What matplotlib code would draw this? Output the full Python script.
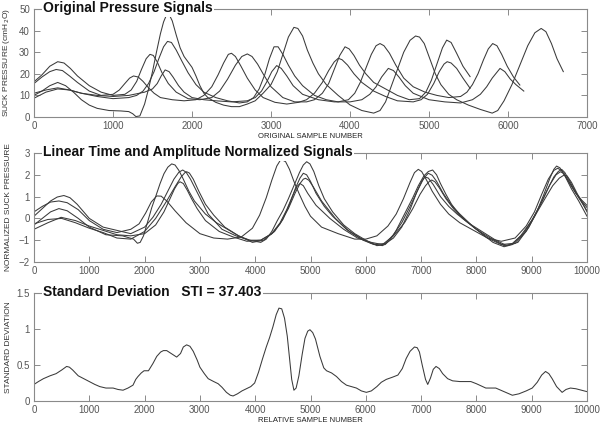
import matplotlib
matplotlib.use("Agg")
import matplotlib.pyplot as plt

plt.rcParams['font.family'] = ['Liberation Sans', 'DejaVu Sans']

# ---------------- Panel 1: original pressure signals (cmH2O) ----------------
sig_a_x = [0, 100, 200, 300, 400, 500, 600, 700, 800, 950, 1100, 1200, 1250, 1290, 1340, 1400, 1450, 1500,
           1550, 1600, 1640, 1680, 1710, 1750, 1800, 1850, 1900, 1950, 2000, 2050, 2100, 2150, 2200, 2300,
           2400, 2500, 2600, 2700, 2800, 2900, 3000, 3080, 3150, 3220, 3290, 3340, 3400, 3460, 3530, 3600,
           3700, 3850, 4000, 4150, 4300, 4380, 4450, 4520, 4600, 4680, 4760, 4830, 4880, 4940, 5000, 5080,
           5150, 5250, 5350, 5500, 5650, 5800, 5870, 5950, 6050, 6150, 6250, 6340, 6420, 6480, 6550, 6620,
           6700]
sig_a_y = [10, 12, 14.5, 16, 14.5, 11.5, 8, 5.5, 4, 3, 2.8, 2.5, 1.5, 0.2, 0.5, 6, 13, 21,
           30, 38.5, 44, 47.5, 47.5, 44.5, 38, 32, 28, 25.5, 23, 19, 14.5, 11, 9, 6.8,
           5.5, 4.8, 4.8, 6, 7.5, 11, 15, 21, 29, 37, 41.5, 41, 37.5, 31, 25, 20,
           15, 10, 5.6, 3, 1.8, 3, 7, 14, 22, 30, 35.5, 37.5, 37, 34, 28, 20,
           15, 10.5, 8, 5.5, 3.5, 1.8, 3, 7.5, 15, 24, 33, 39, 41, 39.5, 34, 27,
           21]

sig_b_x = [0, 150, 300, 450, 600, 800, 1000, 1200, 1400, 1500, 1560, 1610, 1660, 1710, 1760, 1830, 1900,
           2000, 2150, 2300, 2500, 2700, 2800, 2880, 2950, 3010, 3072, 3130, 3200, 3280, 3400, 3600, 3800,
           4000, 4150, 4250, 4330, 4400, 4485, 4550, 4620, 4700, 4800, 5000, 5200, 5400, 5550, 5650, 5730,
           5800, 5899, 5960, 6030, 6100, 6200]
sig_b_y = [11, 12.5, 13.5, 12.5, 11, 10, 9.5, 10, 11.5, 13, 15.5, 19, 21.8, 21, 18.5, 14.5, 11.5,
           9, 8, 7.5, 7, 7.5, 9, 12, 16.5, 21, 23.8, 22.5, 19, 14.5, 10.5, 8, 7,
           7, 8, 10.5, 14, 18.5, 22.5, 21.5, 18.5, 14.5, 11, 8, 7, 6.5, 8, 10.5, 14,
           18, 22.5, 21, 17.5, 15, 12]

sig_c_x = [0, 100, 200, 300, 380, 460, 550, 700, 850, 1000, 1150, 1230, 1300, 1360, 1420, 1468, 1510,
           1560, 1620, 1700, 1800, 1950, 2100, 2250, 2350, 2450, 2550, 2630, 2700, 2760, 2830, 2900, 3000,
           3150, 3300, 3450, 3550, 3650, 3730, 3800, 3870, 3937, 3990, 4050, 4120, 4200, 4300, 4450, 4600,
           4750, 4880, 4960, 5030, 5100, 5170, 5224, 5280, 5350, 5430, 5520]
sig_c_y = [16.3, 19.5, 23.5, 25.6, 25, 22.5, 19, 14.5, 11.5, 10, 10.5, 12.5, 16.5, 22, 27, 29, 28.5,
           25.5, 20.5, 15.5, 11.5, 8.5, 8, 9, 12, 17.5, 24, 28, 29.2, 28, 24.5, 20, 14,
           9, 7, 7, 8, 11, 15.5, 22, 28.5, 32.5, 31.5, 28.5, 24, 20, 16, 13, 10,
           8, 8.5, 11.5, 17, 24.5, 32, 35.6, 34.5, 29.5, 23.5, 18.7]

sig_d_x = [0, 100, 200, 280, 360, 450, 550, 700, 850, 1000, 1080, 1150, 1210, 1260, 1320, 1380, 1450,
           1520, 1600, 1750, 1900, 2050, 2150, 2250, 2330, 2400, 2460, 2500, 2550, 2620, 2700, 2800, 2900,
           3050, 3200, 3350, 3450, 3550, 3650, 3730, 3800, 3852, 3900, 3970, 4050, 4150, 4300, 4450, 4600,
           4800, 4900, 4980, 5060, 5130, 5190, 5230, 5280, 5350, 5430, 5520]
sig_d_y = [15.5, 18.5, 21, 22, 21.5, 19, 16, 12, 10, 10.5, 12.5, 15.5, 18, 19, 18.5, 16.5, 13.5,
           11, 9, 8, 7.5, 8, 10, 14, 19.5, 25, 29, 29.5, 28, 23.5, 18, 12.5, 9,
           6.8, 6, 6.8, 8, 11, 16, 21.5, 25.5, 27.2, 26.5, 24, 20, 16, 12, 9.5, 7.5,
           7, 8, 10.5, 15.5, 21, 24.5, 25.6, 25, 22.5, 18, 13.3]

sig_e_x = [0, 150, 300, 450, 600, 800, 1000, 1200, 1300, 1380, 1450, 1520, 1580, 1640, 1690, 1740, 1800,
           1870, 1950, 2050, 2150, 2300, 2450, 2600, 2700, 2780, 2850, 2920, 2980, 3038, 3090, 3150, 3220,
           3300, 3400, 3550, 3700, 3850, 3980, 4060, 4130, 4200, 4270, 4330, 4380, 4430, 4500, 4580, 4680,
           4800, 4950, 5100, 5250, 5400, 5480, 5550, 5620, 5690, 5750, 5806, 5860, 5920, 5990, 6070, 6150]
sig_e_y = [8.7, 11.5, 13, 12.5, 11, 9.5, 8.5, 9, 10, 12, 15.5, 21, 27, 32.5, 35, 34.5, 31,
           26, 20.5, 15, 11.5, 9, 7.5, 6.5, 7, 9, 13, 19.5, 27, 32.5, 32.5, 29, 24,
           19, 14.5, 10, 8, 7, 8, 11, 16, 22.5, 29, 33, 34, 33, 29.5, 24, 18,
           14, 11.5, 10, 9, 9.5, 11.5, 15, 20, 26.5, 31.5, 34, 33, 29, 23.5, 18.5, 14.8]

# ---------------- Panel 2: normalized signals ----------------
norm_a_x = [0, 150, 300, 450, 600, 800, 1000, 1300, 1600, 1800, 1870, 1920, 1980, 2050, 2130, 2200, 2280,
            2350, 2420, 2490, 2550, 2620, 2700, 2800, 2900, 3100, 3300, 3500, 3700, 3900, 4100, 4200, 4300,
            4400, 4500, 4600, 4700, 4800, 4870, 4931, 4990, 5060, 5150, 5250, 5400, 5600, 5800, 6000, 6200,
            6350, 6450, 6550, 6700, 6850, 6950, 7050, 7130, 7208, 7280, 7350, 7450, 7550, 7700, 7900, 8100,
            8300, 8500, 8650, 8800, 9000, 9150, 9280, 9400, 9480, 9542, 9600, 9700, 9850, 10000]
norm_a_y = [-0.3, 0.0, 0.3, 0.45, 0.35, 0.0, -0.4, -0.75, -0.8, -0.95, -1.14, -1.1, -0.8, -0.2, 0.5, 1.0, 1.6,
            2.05, 2.35, 2.5, 2.45, 2.2, 1.8, 1.25, 0.8, 0.2, -0.2, -0.5, -0.8, -1.0, -1.1, -0.95, -0.6,
            -0.1, 0.35, 0.9, 1.5, 2.1, 2.45, 2.6, 2.5, 2.15, 1.5, 0.9, 0.3, -0.3, -0.7, -1.0, -1.25,
            -1.2, -0.95, -0.55, 0.2, 0.95, 1.5, 1.95, 2.15, 2.22, 2.0, 1.6, 1.1, 0.65, 0.15, -0.3, -0.7,
            -1.1, -1.3, -1.2, -0.8, -0.1, 0.6, 1.3, 1.9, 2.15, 2.25, 2.1, 1.65, 0.95, 0.35]

norm_b_x = [0, 250, 490, 750, 1000, 1250, 1500, 1750, 2000, 2200, 2350, 2450, 2540, 2600, 2640, 2700, 2770,
            2850, 2950, 3100, 3350, 3600, 3850, 4100, 4300, 4450, 4570, 4670, 4750, 4810, 4870, 4950, 5100,
            5350, 5600, 5850, 6100, 6300, 6500, 6700, 6850, 6980, 7080, 7150, 7192, 7250, 7330, 7450, 7600,
            7750, 8000, 8250, 8500, 8700, 8900, 9100, 9250, 9380, 9500, 9580, 9640, 9720, 9820, 9920, 10000]
norm_b_y = [-0.5, -0.2, 0.05, -0.1, -0.35, -0.55, -0.75, -0.8, -0.7, -0.3, 0.3, 0.85, 1.35, 1.6, 1.68, 1.6, 1.3,
            0.9, 0.45, -0.1, -0.6, -0.85, -1.05, -1.0, -0.7, -0.2, 0.4, 1.0, 1.45, 1.6, 1.5, 1.15, 0.6,
            0.0, -0.5, -0.9, -1.1, -1.2, -0.8, -0.2, 0.45, 1.1, 1.5, 1.7, 1.76, 1.68, 1.4, 0.9, 0.4,
            0.0, -0.5, -0.9, -1.25, -1.15, -0.6, 0.3, 0.95, 1.5, 1.85, 1.98, 1.95, 1.65, 1.15, 0.7, 0.3]

norm_c_x = [0, 150, 300, 420, 540, 650, 780, 1000, 1250, 1500, 1750, 2000, 2150, 2300, 2430, 2530, 2620,
            2689, 2750, 2830, 2950, 3150, 3400, 3650, 3900, 4100, 4300, 4450, 4600, 4720, 4810, 4870, 4910,
            4970, 5050, 5200, 5450, 5700, 5950, 6150, 6350, 6500, 6650, 6800, 6950, 7050, 7130, 7200, 7280,
            7400, 7550, 7700, 7950, 8200, 8450, 8650, 8850, 9050, 9200, 9330, 9440, 9520, 9590, 9680, 9800,
            9900, 10000]
norm_c_y = [0.1, 0.45, 0.8, 0.98, 1.05, 0.95, 0.65, 0.0, -0.4, -0.55, -0.7, -0.4, 0.05, 0.65, 1.3, 1.8, 2.12,
            2.22, 2.12, 1.8, 1.2, 0.2, -0.5, -0.8, -1.0, -1.0, -0.7, -0.25, 0.45, 1.15, 1.6, 1.8, 1.84,
            1.75, 1.45, 0.8, 0.0, -0.6, -1.0, -1.2, -1.15, -0.75, -0.2, 0.55, 1.35, 1.85, 2.07, 1.98, 1.7,
            1.15, 0.6, 0.2, -0.4, -0.9, -1.2, -1.15, -0.7, 0.1, 0.85, 1.55, 2.0, 2.14, 2.05, 1.65, 1.15,
            0.85, 0.6]

norm_d_x = [0, 150, 300, 450, 600, 800, 1000, 1250, 1500, 1750, 1900, 2020, 2120, 2219, 2300, 2400, 2550,
            2750, 3000, 3250, 3500, 3750, 3950, 4080, 4200, 4300, 4390, 4450, 4490, 4550, 4620, 4700, 4800,
            4900, 5000, 5200, 5500, 5800, 6000, 6200, 6400, 6550, 6680, 6800, 6880, 6949, 7010, 7100, 7200,
            7350, 7500, 7700, 7950, 8200, 8450, 8700, 8900, 9050, 9180, 9300, 9400, 9470, 9540, 9640, 9800,
            9900, 10000]
norm_d_y = [0.3, 0.55, 0.75, 0.8, 0.72, 0.4, -0.1, -0.5, -0.65, -0.5, -0.25, 0.25, 0.75, 1.03, 1.02, 0.8, 0.35,
            -0.2, -0.7, -0.9, -0.95, -0.85, -0.45, 0.15, 0.95, 1.75, 2.4, 2.65, 2.68, 2.6, 2.25, 1.7, 1.1,
            0.55, 0.1, -0.4, -0.7, -0.95, -0.95, -0.8, -0.35, 0.2, 0.9, 1.65, 2.1, 2.25, 2.15, 1.75, 1.25,
            0.65, 0.2, -0.2, -0.55, -0.9, -1.05, -0.9, -0.35, 0.3, 1.1, 1.8, 2.2, 2.3, 2.2, 1.8, 1.15,
            0.8, 0.5]

norm_e_x = [0, 250, 500, 750, 1000, 1250, 1500, 1750, 2000, 2200, 2400, 2550, 2660, 2730, 2761, 2810, 2880,
            2980, 3100, 3250, 3450, 3700, 3950, 4150, 4350, 4500, 4630, 4730, 4810, 4870, 4930, 5000, 5100,
            5250, 5400, 5650, 5900, 6100, 6300, 6500, 6650, 6800, 6920, 7010, 7070, 7130, 7220, 7350, 7500,
            7650, 7850, 8100, 8350, 8550, 8750, 8950, 9100, 9220, 9330, 9400, 9450, 9510, 9600, 9720, 9850,
            10000]
norm_e_y = [-0.25, -0.05, 0.0, -0.2, -0.45, -0.65, -0.9, -0.95, -0.6, 0.0, 0.8, 1.45, 1.9, 2.1, 2.14, 2.08, 1.8,
            1.25, 0.65, 0.15, -0.4, -0.8, -1.1, -1.0, -0.6, -0.05, 0.7, 1.4, 1.85, 2.07, 2.0, 1.7, 1.15,
            0.55, 0.1, -0.5, -0.9, -1.15, -1.25, -0.9, -0.4, 0.4, 1.2, 1.7, 1.9, 1.85, 1.55, 1.0, 0.55,
            0.2, -0.2, -0.6, -1.0, -1.25, -1.1, -0.4, 0.35, 1.1, 1.85, 2.25, 2.4, 2.32, 1.95, 1.35, 0.8,
            0.1]

# ---------------- Panel 3: standard deviation ----------------
sd_x = [0, 80, 170, 290, 400, 500, 590, 640, 700, 800, 900, 1000, 1100, 1190, 1300, 1430, 1520, 1610,
        1700, 1790, 1840, 1880, 1940, 1990, 2070, 2150, 2220, 2290, 2340, 2400, 2480, 2580, 2650, 2700,
        2760, 2820, 2880, 2950, 3000, 3080, 3150, 3250, 3330, 3400, 3480, 3550, 3600, 3680, 3760, 3840,
        3920, 3990, 4060, 4130, 4200, 4260, 4320, 4380, 4430, 4480, 4530, 4580, 4620, 4660, 4700, 4740,
        4790, 4850, 4900, 4950, 4990, 5040, 5090, 5170, 5240, 5290, 5380, 5470, 5560, 5650, 5740, 5830,
        5920, 6010, 6100, 6200, 6280, 6370, 6480, 6580, 6660, 6730, 6800, 6880, 6930, 6970, 7020, 7080,
        7120, 7170, 7220, 7270, 7330, 7390, 7480, 7570, 7700, 7900, 8000, 8170, 8350, 8500, 8650, 8770,
        8900, 9010, 9100, 9180, 9250, 9310, 9370, 9450, 9550, 9620, 9700, 9800, 9900, 10000]
sd_y = [0.23, 0.27, 0.31, 0.35, 0.38, 0.43, 0.48, 0.47, 0.43, 0.35, 0.31, 0.27, 0.23, 0.2, 0.18, 0.18, 0.16, 0.15,
        0.18, 0.22, 0.3, 0.34, 0.39, 0.42, 0.42, 0.52, 0.62, 0.68, 0.70, 0.70, 0.66, 0.61, 0.66, 0.75,
        0.78, 0.76, 0.69, 0.57, 0.47, 0.38, 0.31, 0.27, 0.24, 0.19, 0.12, 0.08, 0.07, 0.1, 0.14, 0.17,
        0.2, 0.25, 0.4, 0.58, 0.75, 0.88, 1.03, 1.2, 1.29, 1.28, 1.15, 0.9, 0.6, 0.3, 0.15, 0.18,
        0.35, 0.65, 0.87, 0.97, 0.99, 0.95, 0.86, 0.62, 0.46, 0.42, 0.39, 0.34, 0.27, 0.22, 0.2, 0.18,
        0.14, 0.12, 0.14, 0.2, 0.26, 0.3, 0.33, 0.36, 0.45, 0.59, 0.69, 0.75, 0.74, 0.68, 0.5, 0.3,
        0.23, 0.32, 0.44, 0.48, 0.45, 0.38, 0.31, 0.28, 0.27, 0.27, 0.24, 0.18, 0.18, 0.13, 0.08, 0.1,
        0.14, 0.18, 0.26, 0.36, 0.41, 0.38, 0.31, 0.2, 0.12, 0.16, 0.18, 0.17, 0.15, 0.13]

titles = ["Original Pressure Signals",
          "Linear Time and Amplitude Normalized Signals",
          "Standard Deviation   STI = 37.403"]
ylabels = ["SUCK PRESSURE (cmH$_2$O)", "NORMALIZED SUCK PRESSURE", "STANDARD DEVIATION"]
xlabels = ["ORIGINAL SAMPLE NUMBER", None, "RELATIVE SAMPLE NUMBER"]

line_color = "#3a3a3a"
frame_color = "#8a8a8a"
tick_color = "#555555"

fig = plt.figure(figsize=(6.04, 4.26), dpi=100)
W, H = 604.0, 426.0
left, width = 34 / W, 553 / W
ax1 = fig.add_axes([left, 1 - 117 / H, width, 108 / H])
ax2 = fig.add_axes([left, 1 - 262 / H, width, 109 / H])
ax3 = fig.add_axes([left, 1 - 401 / H, width, 108 / H])

for xs, ys in [(sig_a_x, sig_a_y), (sig_b_x, sig_b_y), (sig_c_x, sig_c_y),
               (sig_d_x, sig_d_y), (sig_e_x, sig_e_y)]:
    ax1.plot(xs, ys, color=line_color, lw=0.75)
ax1.set_xlim(0, 7000)
ax1.set_ylim(0, 50)
ax1.set_xticks(range(0, 7001, 1000))
ax1.set_yticks(range(0, 51, 10))

for xs, ys in [(norm_a_x, norm_a_y), (norm_b_x, norm_b_y), (norm_c_x, norm_c_y),
               (norm_d_x, norm_d_y), (norm_e_x, norm_e_y)]:
    ax2.plot(xs, ys, color=line_color, lw=0.75)
ax2.set_xlim(0, 10000)
ax2.set_ylim(-2, 3)
ax2.set_xticks(range(0, 10001, 1000))
ax2.set_yticks(range(-2, 4, 1))

ax3.plot(sd_x, sd_y, color=line_color, lw=0.75)
ax3.set_xlim(0, 10000)
ax3.set_ylim(0, 1.5)
ax3.set_xticks(range(0, 10001, 1000))
ax3.set_yticks([0, 0.5, 1, 1.5])
ax3.set_yticklabels(["0", "0.5", "1", "1.5"])

for ax, title, yl, xl in zip([ax1, ax2, ax3], titles, ylabels, xlabels):
    for sp in ax.spines.values():
        sp.set_color(frame_color)
        sp.set_linewidth(0.8)
    ax.tick_params(direction="in", length=4, width=0.7, color=frame_color,
                   labelsize=7, labelcolor=tick_color, top=True, right=True, pad=3)
    ax.text(0.0165, 0.969, title, transform=ax.transAxes, ha="left", va="baseline",
            fontsize=10, fontweight="bold", color="#111111", zorder=5,
            bbox=dict(facecolor="white", edgecolor="none", pad=1.0))
    ax.set_ylabel(yl, fontsize=6, color="#333333")
    ax.yaxis.set_label_coords(-21.5 / 553, 0.5)
    if xl:
        ax.set_xlabel(xl, fontsize=5.5, color="#222222", labelpad=1)

fig.savefig("out.png", dpi=100)
